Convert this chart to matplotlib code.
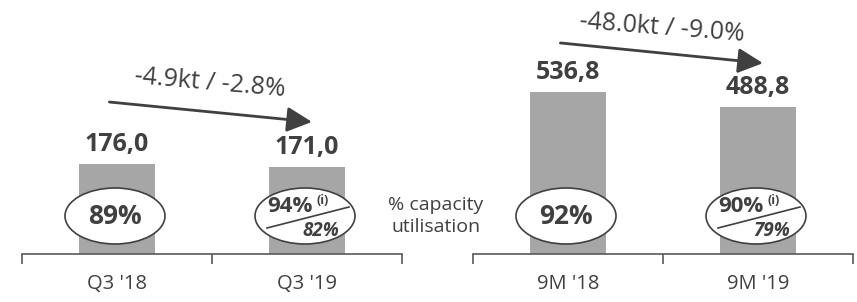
import matplotlib
matplotlib.use("Agg")
import matplotlib.pyplot as plt
from matplotlib.patches import Ellipse
from matplotlib.lines import Line2D

# ---- data ----
left_categories = ["Q3 '18", "Q3 '19"]
left_values = [176.0, 171.0]
left_labels = ["176,0", "171,0"]
left_util = ["89%", "94%"]
left_util_alt = [None, "82%"]
left_change = "-4.9kt / -2.8%"

right_categories = ["9M '18", "9M '19"]
right_values = [536.8, 488.8]
right_labels = ["536,8", "488,8"]
right_util = ["92%", "90%"]
right_util_alt = [None, "79%"]
right_change = "-48.0kt / -9.0%"

util_caption = "% capacity\nutilisation"

W, H = 857, 302
DARK = "#404040"
BAR = "#A6A6A6"
FONT = "Open Sans"

plt.rcParams['font.family'] = [FONT, 'DejaVu Sans']
fig = plt.figure(figsize=(W / 100, H / 100), dpi=100)

def add_axes(x0, x1, ytop_units):
    base = 254
    ax = fig.add_axes([x0 / W, 1 - base / H, (x1 - x0) / W, base / H])
    ax.set_xlim(-0.5, 1.5)
    ax.set_ylim(0, ytop_units)
    for s in ["top", "left", "right"]:
        ax.spines[s].set_visible(False)
    ax.spines["bottom"].set_color("#595959")
    ax.spines["bottom"].set_linewidth(1.2)
    ax.set_yticks([])
    ax.set_xticks([-0.5, 0.5, 1.5])
    ax.set_xticklabels([])
    ax.tick_params(axis="x", direction="out", length=7, width=1.2, color="#595959")
    ax.patch.set_alpha(0)
    return ax

def to_px(ax, x, y):
    dx, dy = ax.transData.transform((x, y))
    return dx, H - dy

def ftext(x, y, s, **kw):
    fig.text(x / W, 1 - y / H, s, **kw)

def draw_panel(ax, cats, vals, labels, util, util_alt, arrow_y):
    xs = list(range(len(cats)))
    ax.bar(xs, vals, width=0.405, color=BAR, zorder=1)
    for i, (v, lab, c) in enumerate(zip(vals, labels, cats)):
        ax.annotate(lab, (i, v), xytext=(0, 5), textcoords="offset points",
                    ha="center", va="bottom", fontsize=18, fontweight="bold",
                    color=DARK)
        cx, _ = to_px(ax, i, 0)
        ftext(cx, 284, c, ha="center", va="center", fontsize=14.5, color=DARK)
        ex, ey = cx - 2, 216
        ell = Ellipse((ex / W, 1 - ey / H), 100 / W, 56 / H,
                      transform=fig.transFigure, facecolor="white",
                      edgecolor=DARK, linewidth=1.2, zorder=3)
        fig.add_artist(ell)
        if util_alt[i] is None:
            ftext(ex, ey, util[i], ha="center", va="center", fontsize=19,
                  fontweight="bold", color=DARK, zorder=4)
        else:
            ftext(ex - 15, ey - 9, util[i], ha="center", va="center",
                  fontsize=16, fontweight="bold", color=DARK, zorder=4)
            ftext(ex + 18, ey - 16, "(i)", ha="center", va="center",
                  fontsize=9, fontweight="bold", color=DARK, zorder=4)
            ln = Line2D([(ex - 38) / W, (ex + 44) / W],
                        [1 - (ey + 12) / H, 1 - (ey - 9) / H],
                        transform=fig.transFigure, color=DARK, lw=1.2, zorder=4)
            fig.add_artist(ln)
            ftext(ex + 16, ey + 15, util_alt[i], ha="center", va="center",
                  fontsize=13.5, fontweight="bold", style="italic", color=DARK,
                  zorder=4)
    ax.annotate("", xy=(1.026, arrow_y[1]), xytext=(-0.04, arrow_y[0]),
                arrowprops=dict(arrowstyle="-|>,head_length=0.9,head_width=0.45",
                                color=DARK, lw=2, mutation_scale=17,
                                shrinkA=0, shrinkB=0))

axL = add_axes(22, 402, 254 / 0.51)
axR = add_axes(473, 853, 254 / 0.3015)

draw_panel(axL, left_categories, left_values, left_labels, left_util,
           left_util_alt, (298, 259))
draw_panel(axR, right_categories, right_values, right_labels, right_util,
           right_util_alt, (700, 633))

ftext(210, 83, left_change, ha="center", va="center", fontsize=18,
      color=DARK, rotation=-5)
ftext(662, 28, right_change, ha="center", va="center", fontsize=18,
      color=DARK, rotation=-4.5)

ftext(436, 216, util_caption, ha="center", va="center", fontsize=14,
      color=DARK, linespacing=1.25)

fig.savefig("out.png", dpi=100)
